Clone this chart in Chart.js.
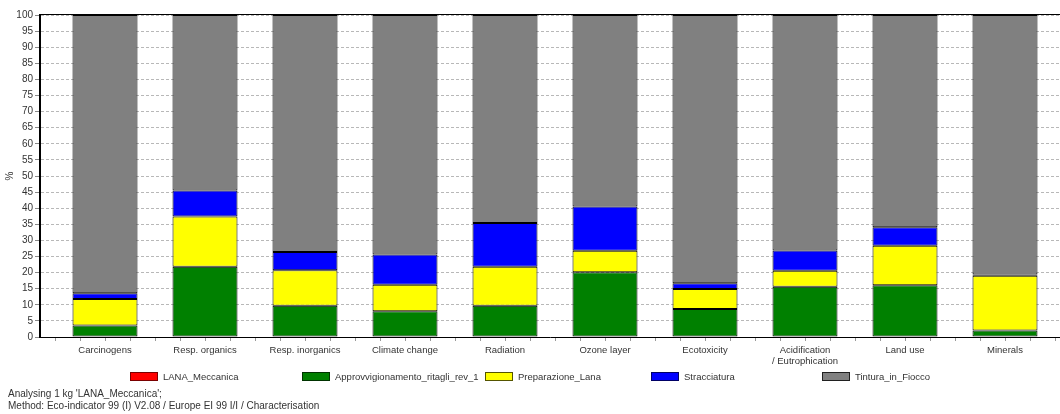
<!DOCTYPE html>
<html>
<head>
<meta charset="utf-8">
<script src="https://cdn.jsdelivr.net/npm/chart.js@4.4.1/dist/chart.umd.min.js"></script>
<style>
  html, body { margin: 0; padding: 0; background: #fff; }
  #wrap { position: relative; width: 1060px; height: 414px; }
</style>
</head>
<body>
<div id="wrap"><canvas id="c" width="1060" height="414"></canvas></div>
<script>
// Impact categories (x axis); an array entry is a multi-line label
const categories = [
  'Carcinogens', 'Resp. organics', 'Resp. inorganics', 'Climate change', 'Radiation',
  'Ozone layer', 'Ecotoxicity', ['Acidification', '/ Eutrophication'], 'Land use', 'Minerals'
];

// Share of each process in every impact category, in %
const lanaMeccanica      = [0, 0, 0, 0, 0, 0, 0, 0, 0, 0];
const approvvigionamento = [3.6, 21.8, 9.7, 8.0, 9.7, 20.1, 8.7, 15.6, 16.1, 2.0];
const preparazioneLana   = [8.2, 15.6, 11.0, 8.2, 12.1, 6.7, 6.2, 5.0, 12.2, 17.0];
const stracciatura       = [1.8, 8.1, 5.7, 9.4, 13.6, 13.7, 1.8, 6.3, 5.8, 0.4];
const tinturaInFiocco    = [86.4, 54.5, 73.6, 74.4, 64.6, 59.5, 83.3, 73.1, 65.9, 80.6];

const seriesNames = ['LANA_Meccanica', 'Approvvigionamento_ritagli_rev_1', 'Preparazione_Lana', 'Stracciatura', 'Tintura_in_Fiocco'];
const seriesColors = ['#ff0000', '#008000', '#ffff00', '#0000ff', '#808080'];
const seriesEdges  = ['#7a0000', '#003300', '#555500', '#000066', '#202020'];

// y axis: 0..100 %, labelled every 5
const yMin = 0, yMax = 100, yStep = 5;

const footerLines = [
  "Analysing 1 kg 'LANA_Meccanica';",
  'Method: Eco-indicator 99 (I) V2.08 / Europe EI 99 I/I / Characterisation'
];

// Legend item left edges along the bottom row
const legendX = [130, 302, 485, 651, 822];

const FONT = "'Liberation Sans', Arial, sans-serif";
const TEXT = '#333';

const seriesValues = [lanaMeccanica, approvvigionamento, preparazioneLana, stracciatura, tinturaInFiocco];

const datasets = seriesValues.map((vals, j) => ({
  label: seriesNames[j],
  data: vals.map((v, i) => ({ x: i, y: v })),
  backgroundColor: seriesColors[j],
  borderColor: '#000',
  borderWidth: 1,
  borderSkipped: false,
  categoryPercentage: 1,
  barPercentage: 0.65
}));

// Frame line, small x ticks, legend and footer text
const decorations = {
  id: 'decorations',
  beforeDatasetsDraw(chart) {
    const { ctx, chartArea, scales: { x } } = chart;
    ctx.save();
    ctx.strokeStyle = '#999';
    ctx.lineWidth = 1;
    for (let q = -0.5; q <= categories.length - 0.5 + 1e-9; q += 0.25) {
      const px = Math.round(x.getPixelForValue(q)) + 0.5;
      ctx.beginPath();
      ctx.moveTo(px, chartArea.bottom + 1);
      ctx.lineTo(px, chartArea.bottom + 4);
      ctx.stroke();
    }
    ctx.restore();
  },
  afterDraw(chart) {
    const { ctx, chartArea } = chart;
    ctx.save();
    // top frame
    ctx.strokeStyle = '#000';
    ctx.lineWidth = 1;
    ctx.beginPath();
    ctx.moveTo(chartArea.left, chartArea.top - 0.5);
    ctx.lineTo(chartArea.right, chartArea.top - 0.5);
    ctx.stroke();

    // legend
    ctx.font = '9.5px ' + FONT;
    ctx.textBaseline = 'middle';
    ctx.textAlign = 'left';
    seriesNames.forEach((name, j) => {
      const bx = legendX[j];
      ctx.fillStyle = seriesColors[j];
      ctx.fillRect(bx, 373, 28, 8);
      ctx.strokeStyle = seriesEdges[j];
      ctx.lineWidth = 1;
      ctx.strokeRect(bx + 0.5, 372.5, 27, 8);
      ctx.fillStyle = TEXT;
      ctx.fillText(name, bx + 33, 377);
    });

    // footer
    ctx.font = '10px ' + FONT;
    footerLines.forEach((line, k) => {
      ctx.fillText(line, 8, 394 + k * 12);
    });
    ctx.restore();
  }
};

new Chart(document.getElementById('c'), {
  type: 'bar',
  data: { datasets },
  plugins: [decorations],
  options: {
    responsive: false,
    devicePixelRatio: 1,
    animation: false,
    layout: { padding: { top: 15, left: 0, right: 0, bottom: 0 } },
    plugins: { legend: { display: false }, tooltip: { enabled: false } },
    scales: {
      x: {
        type: 'linear',
        bounds: 'data',
        offset: false,
        stacked: true,
        min: -0.65,
        max: categories.length - 0.45,
        afterBuildTicks: s => { s.ticks = categories.map((_, i) => ({ value: i })); },
        afterFit: s => { s.height = 77; s.paddingLeft = 0; s.paddingRight = 0; },
        grid: { display: false, drawTicks: false, offset: false },
        border: { display: true, color: '#000', width: 1 },
        ticks: {
          autoSkip: false,
          maxRotation: 0,
          minRotation: 0,
          padding: 8,
          color: TEXT,
          font: { family: FONT, size: 9.5, lineHeight: 1.15 },
          callback: v => categories[v]
        }
      },
      y: {
        stacked: true,
        min: yMin,
        max: yMax,
        afterFit: s => { s.width = 40; s.paddingTop = 0; s.paddingBottom = 0; },
        title: { display: true, text: '%', color: TEXT, font: { family: FONT, size: 10 }, padding: { top: 4, bottom: 0 } },
        grid: { color: '#b8b8b8', lineWidth: 1, tickLength: 5, tickColor: '#888', tickBorderDash: [] },
        border: { display: true, color: '#000', width: 2, dash: [3, 2] },
        ticks: {
          stepSize: yStep,
          padding: 2,
          color: TEXT,
          font: { family: FONT, size: 10 }
        }
      }
    }
  }
});
</script>
</body>
</html>
